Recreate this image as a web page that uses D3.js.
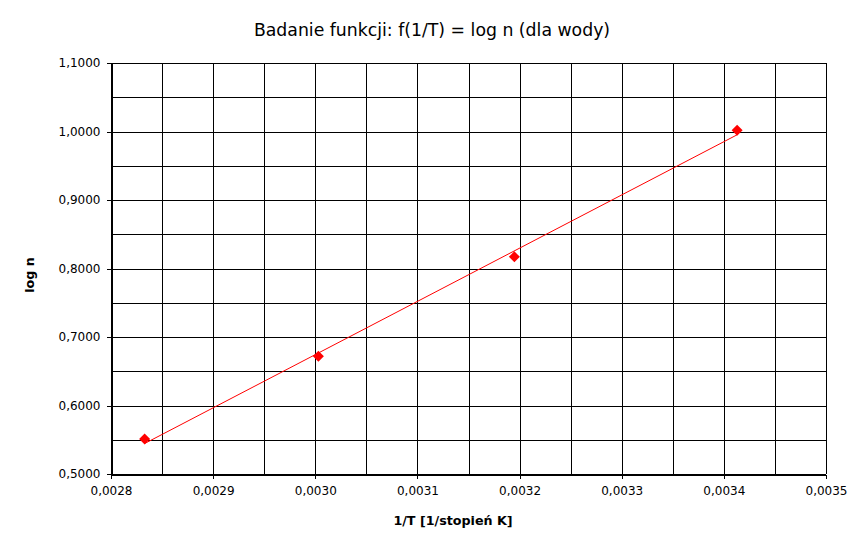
<!DOCTYPE html>
<html>
<head>
<meta charset="utf-8">
<script src="https://cdn.jsdelivr.net/npm/d3@7"></script>
<style>
  html, body { margin: 0; padding: 0; background: #fff; }
  svg { display: block; font-family: "DejaVu Sans", sans-serif; }
</style>
</head>
<body>
<svg id="chart" width="866" height="548"></svg>
<script>
// Data
const invT = [0.0028329, 0.0030030, 0.0031949, 0.0034130];
const logN = [0.551, 0.672, 0.817, 1.002];
const xTicks = [0.0028, 0.0029, 0.0030, 0.0031, 0.0032, 0.0033, 0.0034, 0.0035];
const yTicks = [0.5, 0.6, 0.7, 0.8, 0.9, 1.0, 1.1];
const xGrid = [0.0028, 0.00285, 0.0029, 0.00295, 0.0030, 0.00305, 0.0031, 0.00315, 0.0032, 0.00325, 0.0033, 0.00335, 0.0034, 0.00345, 0.0035];
const yGrid = [0.5, 0.55, 0.6, 0.65, 0.7, 0.75, 0.8, 0.85, 0.9, 0.95, 1.0, 1.05, 1.1];
const title = "Badanie funkcji: f(1/T) = log n (dla wody)";
const xTitle = "1/T [1/stopień K]";
const yTitle = "log n";

const svg = d3.select("#chart");
const L = 111, R = 826, T = 63, B = 474;
const x = d3.scaleLinear().domain([0.0028, 0.0035]).range([L, R]);
const y = d3.scaleLinear().domain([0.5, 1.1]).range([B, T]);
const fmt = v => v.toFixed(4).replace(".", ",");

// grid
const g = svg.append("g").attr("shape-rendering", "crispEdges");
g.selectAll(".vg").data(xGrid).enter().append("line")
  .attr("x1", d => Math.round(x(d)) + 0.5).attr("x2", d => Math.round(x(d)) + 0.5)
  .attr("y1", T).attr("y2", B).attr("stroke", "#000");
g.selectAll(".hg").data(yGrid).enter().append("line")
  .attr("x1", L).attr("x2", R)
  .attr("y1", d => Math.round(y(d)) + 0.5).attr("y2", d => Math.round(y(d)) + 0.5).attr("stroke", "#000");

// axes
const xAxis = d3.axisBottom(x).tickValues(xTicks).tickFormat(fmt).tickSize(4).tickSizeOuter(0).tickPadding(8);
const yAxis = d3.axisLeft(y).tickValues(yTicks).tickFormat(fmt).tickSize(5).tickSizeOuter(0).tickPadding(6);
const xa = svg.append("g").attr("transform", `translate(0,${Math.round(B) + 0.5})`).call(xAxis);
const ya = svg.append("g").attr("transform", `translate(${L + 0.5},0)`).call(yAxis);
[xa, ya].forEach(a => {
  a.selectAll("path,line").attr("stroke", "#000").attr("shape-rendering", "crispEdges");
  a.selectAll("text").attr("font-size", 12).attr("fill", "#000").attr("font-family", "DejaVu Sans");
});

// trendline (least squares fit of the data)
const mx = d3.mean(invT), my = d3.mean(logN);
const slope = d3.sum(invT.map((v, i) => (v - mx) * (logN[i] - my))) / d3.sum(invT.map(v => (v - mx) ** 2));
const icpt = my - slope * mx;
const xr = d3.extent(invT);
svg.append("line")
  .attr("x1", x(xr[0])).attr("y1", y(icpt + slope * xr[0]))
  .attr("x2", x(xr[1])).attr("y2", y(icpt + slope * xr[1]))
  .attr("stroke", "#ff0000").attr("stroke-width", 1);

// markers
svg.selectAll(".pt").data(invT).enter().append("path")
  .attr("d", "M0,-5.5L5.5,0L0,5.5L-5.5,0Z")
  .attr("transform", (d, i) => `translate(${x(d)},${y(logN[i])})`)
  .attr("fill", "#ff0000");

// titles
svg.append("text").attr("x", 432).attr("y", 36).attr("text-anchor", "middle")
  .attr("font-size", 17.3).text(title);
svg.append("text").attr("x", 453).attr("y", 525).attr("text-anchor", "middle")
  .attr("font-size", 12.7).attr("font-weight", "bold").text(xTitle);
svg.append("text").attr("transform", "translate(34,275) rotate(-90)").attr("text-anchor", "middle")
  .attr("font-size", 12.7).attr("font-weight", "bold").text(yTitle);
</script>
</body>
</html>
